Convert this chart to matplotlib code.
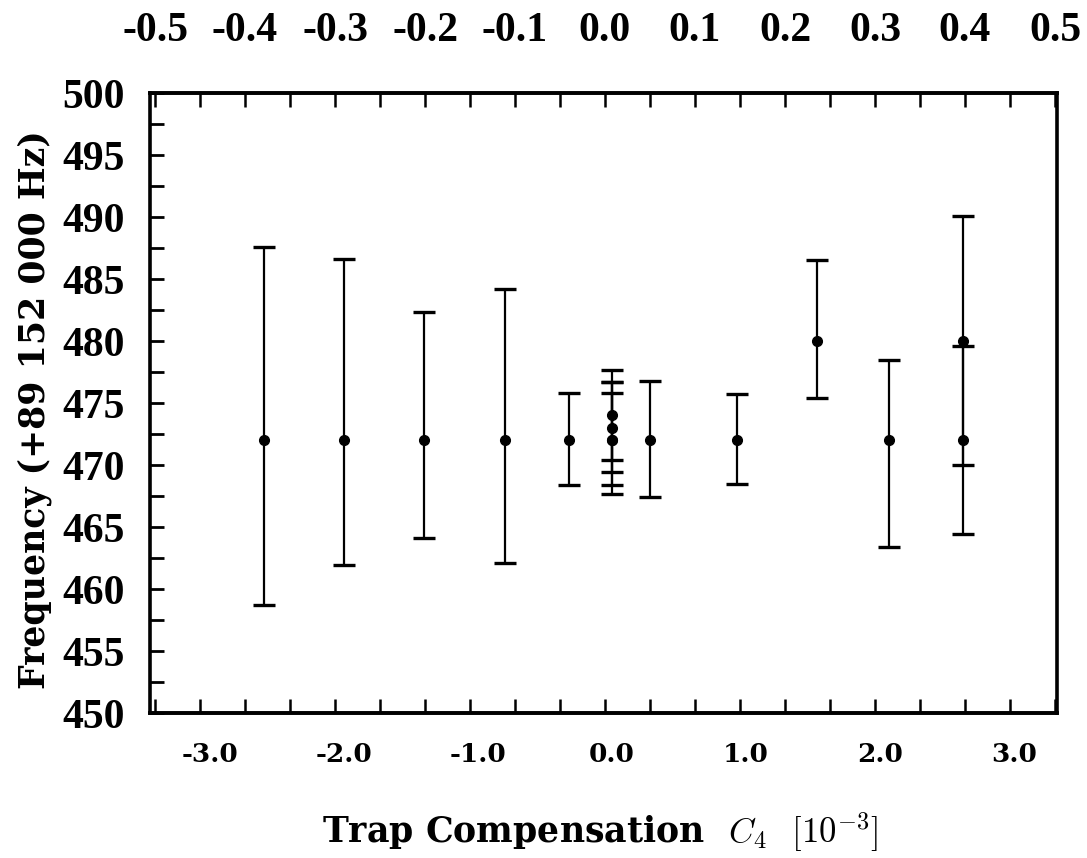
import matplotlib.pyplot as plt
import numpy as np

# trap compensation C4 [1e-3] and frequency offsets (Hz above 89 152 000)
c4 = [-2.60, -2.00, -1.40, -0.80, -0.32, 0.0, 0.0, 0.0, 0.0, 0.28, 0.93, 1.53, 2.07, 2.62, 2.62]
freq = [472, 472, 472, 472, 472, 474, 473, 472, 472, 472, 472, 480, 472, 480, 472]
err_lo = [13.3, 10.1, 7.9, 9.9, 3.6, 3.6, 3.6, 3.6, 4.3, 4.6, 3.5, 4.6, 8.6, 10.0, 7.6]
err_hi = [15.6, 14.6, 10.3, 12.2, 3.8, 3.7, 3.7, 3.8, 4.7, 4.8, 3.7, 6.5, 6.5, 10.1, 7.6]

xticks_bottom = [-3.0, -2.0, -1.0, 0.0, 1.0, 2.0, 3.0]
xticks_top = [-0.5, -0.4, -0.3, -0.2, -0.1, 0.0, 0.1, 0.2, 0.3, 0.4, 0.5]
yticks = [450, 455, 460, 465, 470, 475, 480, 485, 490, 495, 500]

plt.rcParams['font.family'] = ['Liberation Serif', 'DejaVu Serif']
plt.rcParams['mathtext.fontset'] = 'cm'

fig = plt.figure(figsize=(10.87, 8.58), dpi=100)
W, H = 1087, 858
left, right, top, bottom = 150, 1057, 93, 713
ax = fig.add_axes([left / W, 1 - bottom / H, (right - left) / W, (bottom - top) / H])

# pixel mapping of bottom scale: px = 612 + 134 * c4
ax.set_xlim((left - 612) / 134, (right - 612) / 134)
ax.set_ylim(450, 500)

ax.errorbar(c4, freq, yerr=[err_lo, err_hi], fmt='o', color='black', ms=7,
            elinewidth=1.6, capsize=8, capthick=2.4)

for s in ax.spines.values():
    s.set_linewidth(2.6)

# bottom labels
ax.set_xticks(xticks_bottom)
ax.set_xticklabels(['%.1f' % v for v in xticks_bottom], fontsize=19,
                   fontweight='bold', family='DejaVu Serif')
ax.tick_params(axis='x', which='major', length=0, pad=21)

# y axis
ax.set_yticks(yticks)
ax.set_yticklabels([str(v) for v in yticks], fontsize=30, fontweight='bold')
ax.set_yticks(np.arange(452.5, 500, 5), minor=True)
ax.tick_params(axis='y', which='both', direction='in', length=10, width=2, pad=18)


# top scale
def to_top(x):
    return (7 + 134 * np.asarray(x)) / 900


def from_top(t):
    return (900 * np.asarray(t) - 7) / 134


sec = ax.secondary_xaxis('top', functions=(to_top, from_top))
sec.set_xticks(xticks_top)
sec.set_xticklabels(['%.1f' % v for v in xticks_top], fontsize=30, fontweight='bold')
sec.set_xticks(np.arange(-0.45, 0.5, 0.1), minor=True)
sec.tick_params(which='both', direction='in', length=10, width=1.8, pad=31)
sec.spines['top'].set_linewidth(2.6)

sec_b = ax.secondary_xaxis('bottom', functions=(to_top, from_top))
sec_b.set_xticks(xticks_top)
sec_b.set_xticks(np.arange(-0.45, 0.5, 0.1), minor=True)
sec_b.set_xticklabels([])
sec_b.tick_params(which='both', direction='in', length=10, width=1.8)
sec_b.spines['bottom'].set_linewidth(2.6)

ax.set_xlabel(r'Trap Compensation  $C_4$  $[10^{-3}]$', fontsize=25,
              fontweight='bold', family='DejaVu Serif')
ax.xaxis.set_label_coords((600 - left) / (right - left), -(810 - bottom) / (bottom - top))
ax.set_ylabel('Frequency (+89 152 000 Hz)', fontsize=25, fontweight='bold',
              family='DejaVu Serif')
ax.yaxis.set_label_coords(-(left - 52) / (right - left), 0.49)

fig.savefig('out.png', dpi=100)
